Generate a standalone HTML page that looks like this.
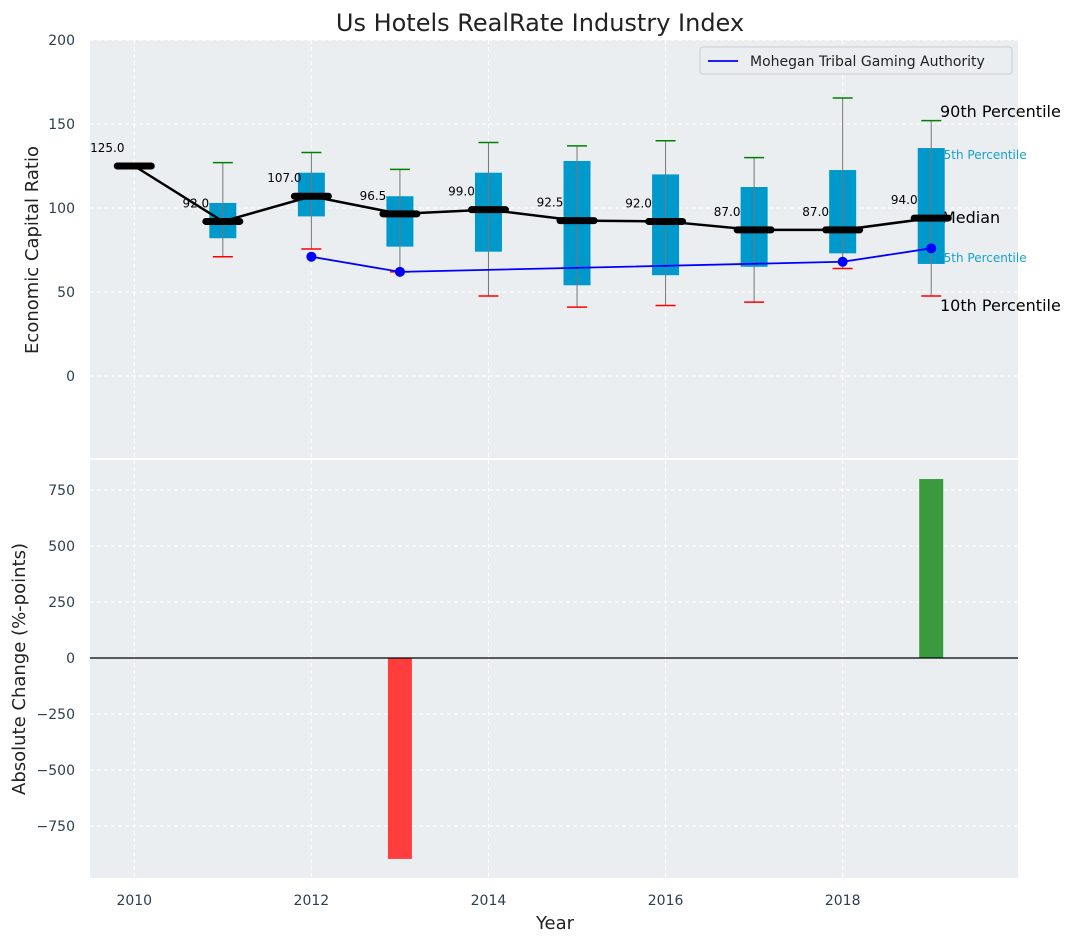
<!DOCTYPE html>
<html><head><meta charset="utf-8"><style>
body{margin:0;background:#fff;}
svg{display:block;font-family:"DejaVu Sans","Liberation Sans",sans-serif;}
</style></head><body>
<svg id="chart" width="1075" height="942"></svg>
<script>
const years=[2010,2011,2012,2013,2014,2015,2016,2017,2018,2019];
const medians=[125,92,107,96.5,99,92.5,92,87,87,94];
const q1=[null,82,95,77,74,54,60,65,73,66.7];
const q3=[null,103,121,107,121,128,120,112.5,122.6,135.7];
const p90=[null,127,133,123,139,137,140,130,165.5,152];
const p10=[null,71,75.6,62,47.6,41,42,44,64,47.6];
const companyYears=[2012,2013,2018,2019];
const companyValues=[71,62,68,76];
const changeYears=[2013,2019];
const changeValues=[-897,799];
const topTicks=[0,50,100,150,200];
const bottomTicks=[-750,-500,-250,0,250,500,750];
const xTicks=[2010,2012,2014,2016,2018];

const NS="http://www.w3.org/2000/svg";
const svg=document.getElementById('chart');
function el(tag,attrs,parent){const e=document.createElementNS(NS,tag);for(const k in attrs)e.setAttribute(k,attrs[k]);(parent||svg).appendChild(e);return e;}
const X=v=>90+(v-2009.5)*(928/10.48);
const Y1=v=>376-v*1.68;
const Y2=v=>658-v*0.224;

let a1=el('rect',{x:90,y:40,width:928,height:418,fill:'#eaeef0'});

let a2=el('rect',{x:90,y:460,width:928,height:418,fill:'#eaeef0'});


xTicks.forEach(t=>{
  el('line',{x1:X(t),x2:X(t),y1:40,y2:458,stroke:'#fff','stroke-dasharray':'4,3','stroke-width':1});
  el('line',{x1:X(t),x2:X(t),y1:460,y2:878,stroke:'#fff','stroke-dasharray':'4,3','stroke-width':1});
  let tx=el('text',{x:X(t),y:905,'text-anchor':'middle','font-size':14,fill:'#2e3e50'});tx.textContent=t;
  
});
topTicks.forEach(t=>{
  el('line',{x1:90,x2:1018,y1:Y1(t),y2:Y1(t),stroke:'#fff','stroke-dasharray':'4,3'});
  let tx=el('text',{x:75,y:Y1(t)+5,'text-anchor':'end','font-size':14,fill:'#2e3e50'});tx.textContent=t;
  
});
bottomTicks.forEach(t=>{
  el('line',{x1:90,x2:1018,y1:Y2(t),y2:Y2(t),stroke:'#fff','stroke-dasharray':'4,3'});
  let tx=el('text',{x:75,y:Y2(t)+5,'text-anchor':'end','font-size':14,fill:'#2e3e50'});tx.textContent=String(t).replace('-','−');
  
});

function lab(txt,x,y,size,color,name){let t=el('text',{x:x,y:y,'font-size':size,fill:color});t.textContent=txt;}
lab('90th Percentile',940,117,16,'#000','label-90th');
lab('75th Percentile',936,159,12,'#1aa0cc','label-75th');
lab('Median',942,223,16,'#000','label-median');
lab('25th Percentile',936,262,12,'#1aa0cc','label-25th');
lab('10th Percentile',940,311,16,'#000','label-10th');

years.forEach((yr,i)=>{
  if(q1[i]==null)return;
  const cx=X(yr),hw=13.5;
  let b=el('rect',{x:cx-hw,y:Y1(q3[i]),width:2*hw,height:Y1(q1[i])-Y1(q3[i]),fill:'#0099cc'});
  
  el('line',{x1:cx,x2:cx,y1:Y1(p90[i]),y2:Y1(p10[i]),stroke:'#777','stroke-width':1});
  el('line',{x1:cx-10,x2:cx+10,y1:Y1(p90[i]),y2:Y1(p90[i]),stroke:'green','stroke-width':1.5});
  el('line',{x1:cx-10,x2:cx+10,y1:Y1(p10[i]),y2:Y1(p10[i]),stroke:'red','stroke-width':1.5});
});
let mp=el('polyline',{points:years.map((y,i)=>X(y)+','+Y1(medians[i])).join(' '),fill:'none',stroke:'#000','stroke-width':2.5});

years.forEach((yr,i)=>{
  let m=el('line',{x1:X(yr)-17,x2:X(yr)+17,y1:Y1(medians[i]),y2:Y1(medians[i]),stroke:'#000','stroke-width':7,'stroke-linecap':'round'});
  
  let t=el('text',{x:X(yr)-27,y:Y1(medians[i])-14,'text-anchor':'middle','font-size':12,fill:'#000'});t.textContent=medians[i].toFixed(1);
  
});
let cl=el('polyline',{points:companyYears.map((y,i)=>X(y)+','+Y1(companyValues[i])).join(' '),fill:'none',stroke:'#0000ff','stroke-width':1.8});

companyYears.forEach((yr,i)=>{let c=el('circle',{cx:X(yr),cy:Y1(companyValues[i]),r:5,fill:'#0000ff'});});

let lg=el('g',{});
el('rect',{x:700,y:47,width:312,height:27,fill:'#eaeef0',stroke:'#ccc',rx:3},lg);
el('line',{x1:708,x2:738,y1:61,y2:61,stroke:'#0000ff','stroke-width':1.8},lg);
let lt=el('text',{x:750,y:66,'font-size':14,fill:'#222'},lg);lt.textContent='Mohegan Tribal Gaming Authority';

changeYears.forEach((yr,i)=>{
  const v=changeValues[i];
  let r=el('rect',{x:X(yr)-12,y:Math.min(Y2(v),Y2(0)),width:24,height:Math.abs(Y2(v)-Y2(0)),fill:v<0?'#ff3d3d':'#3a9b3e'});
  
});
el('line',{x1:90,x2:1018,y1:Y2(0),y2:Y2(0),stroke:'#000','stroke-width':1.2});

function txt(s,attrs,name){let t=el('text',attrs);t.textContent=s;}
txt('Us Hotels RealRate Industry Index',{x:540,y:31,'text-anchor':'middle','font-size':24,fill:'#222'},'chart-title');
txt('Year',{x:555,y:929,'text-anchor':'middle','font-size':18,fill:'#222'},'x-axis-title');
txt('Economic Capital Ratio',{x:38,y:250,'text-anchor':'middle','font-size':18,fill:'#222',transform:'rotate(-90 38 250)'},'top-y-axis-title');
txt('Absolute Change (%-points)',{x:25,y:669,'text-anchor':'middle','font-size':18,fill:'#222',transform:'rotate(-90 25 669)'},'bottom-y-axis-title');
</script>
</body></html>
